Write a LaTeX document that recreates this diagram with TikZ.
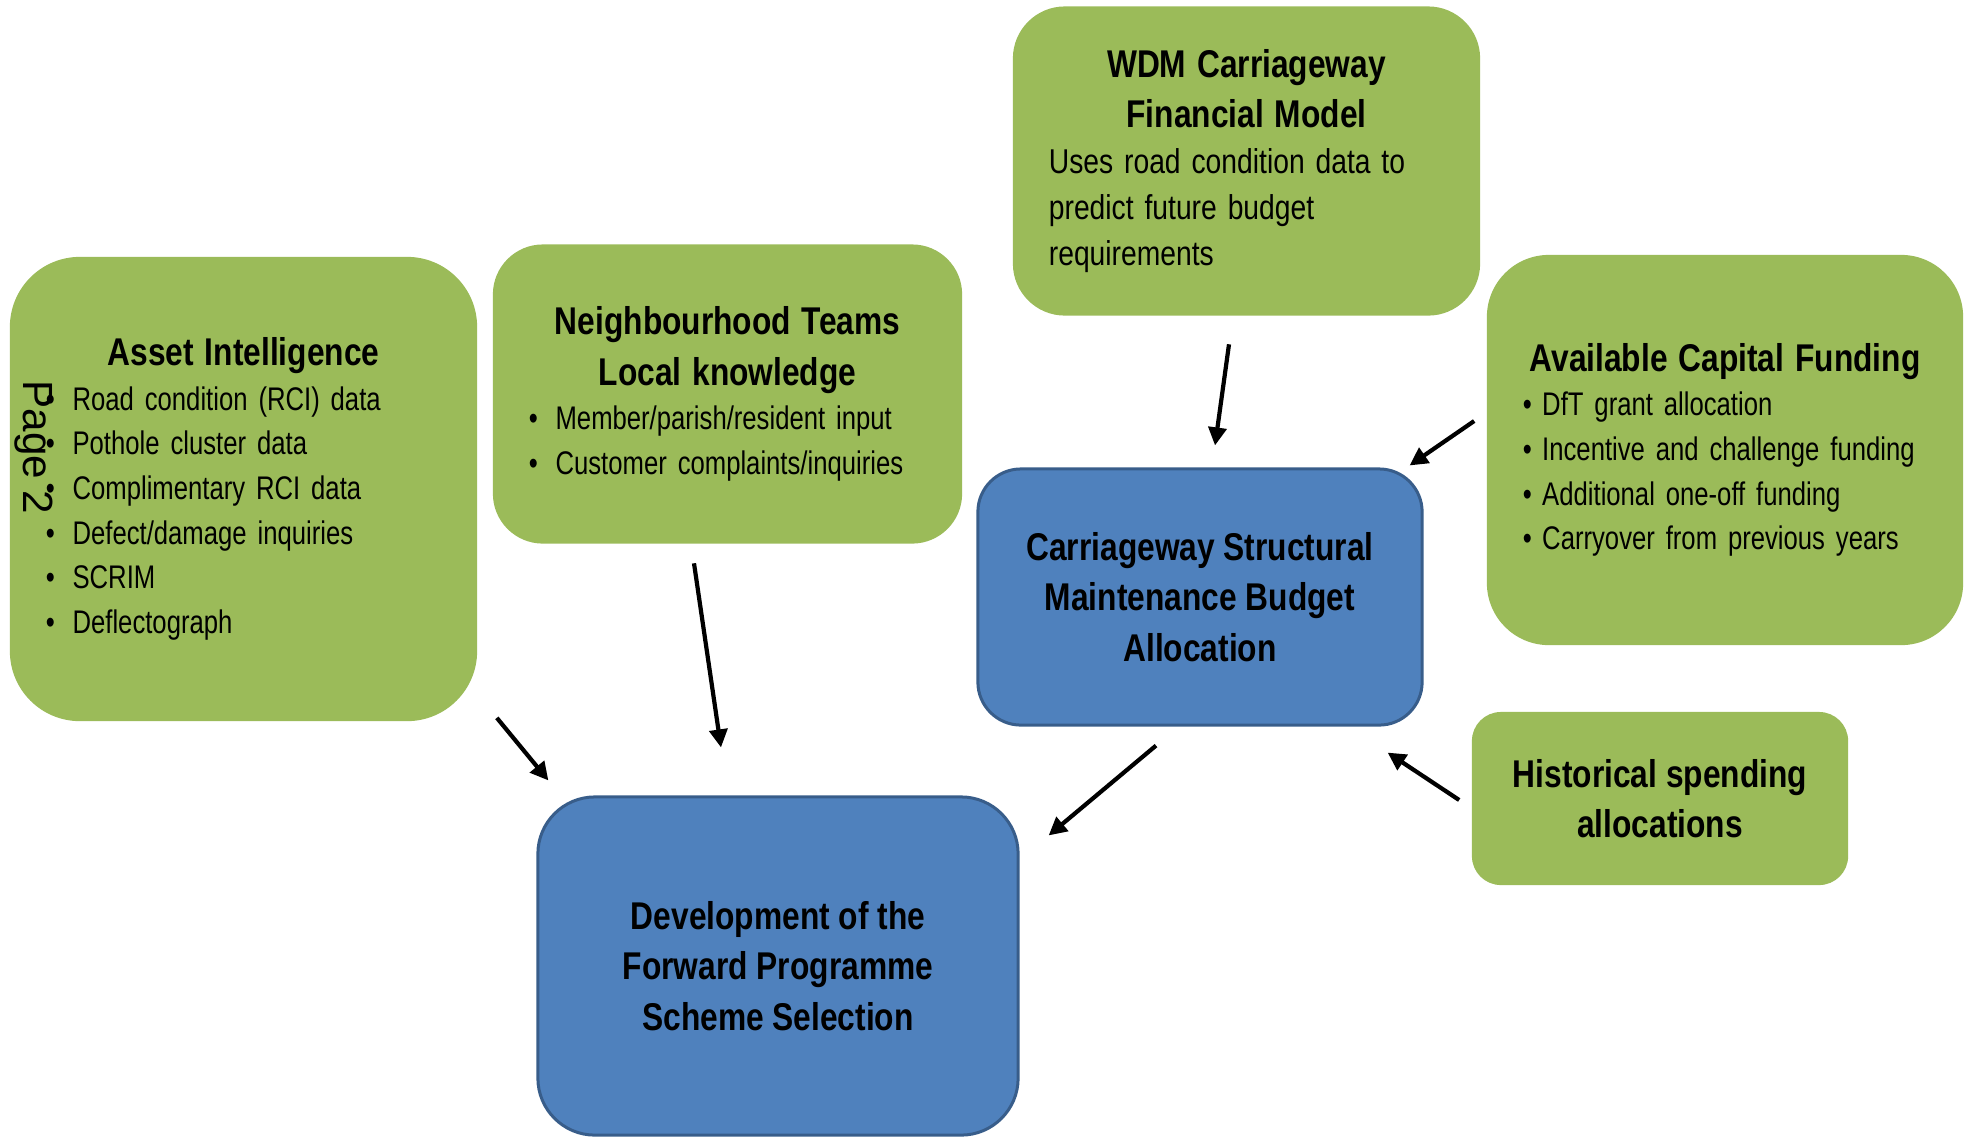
\documentclass[tikz,border=0pt]{standalone}
\usepackage{fontspec}
\setmainfont{Liberation Sans}[FakeStretch=0.82]
\newfontfamily\narrowfont{Liberation Sans}[FakeStretch=0.785]
\newfontfamily\pagefont{Liberation Sans}
\usetikzlibrary{positioning,arrows.meta}

\definecolor{boxgreen}{HTML}{9BBB59}
\definecolor{boxblue}{HTML}{4F81BD}
\definecolor{edgeblue}{HTML}{385D8A}

\newcommand{\headfont}{\rmfamily\fontsize{11}{14.3}\selectfont\bfseries}
\newcommand{\bodyfont}{\narrowfont\fontsize{9.3}{12.7}\selectfont}
\newcommand{\itembul}[1][7.6pt]{\makebox[#1][l]{\textbullet}}

\begin{document}
\begin{tikzpicture}[x=0.01cm,y=-0.01cm,
    greenbox/.style={fill=boxgreen,inner xsep=0.36cm,align=left,font=\bodyfont},
    bluebox/.style={fill=boxblue,draw=edgeblue,line width=0.03cm,align=center,font=\headfont},
    arr/.style={line width=0.042cm,-{Triangle[length=0.18cm,width=0.18cm]}}]
                \useasboundingbox (0,0) rectangle (1964,1138);
                \node[greenbox,minimum width=4.67cm,minimum height=4.64cm,text width=3.95cm,rounded corners=0.7cm] (asset) at (243.5,489)
                    {{\centering\headfont Asset Intelligence\par}
                     \itembul Road condition (RCI) data\\
                     \itembul Pothole cluster data\\
                     \itembul Complimentary RCI data\\
                     \itembul Defect/damage inquiries\\
                     \itembul SCRIM\\
                     \itembul Deflectograph};
                \node[greenbox,minimum width=4.69cm,minimum height=2.99cm,text width=3.97cm,rounded corners=0.5cm] (nbhd) at (727.5,394)
                    {{\centering\headfont Neighbourhood Teams\\Local knowledge\par}
                     \itembul Member/parish/resident input\\
                     \itembul Customer complaints/inquiries};
                \node[greenbox,minimum width=4.67cm,minimum height=3.09cm,text width=3.95cm,rounded corners=0.52cm] (wdm) at (1246.5,161)
                    {{\centering\headfont WDM Carriageway\\Financial Model\par}
                     {\rmfamily\fontsize{9.8}{13.1}\selectfont Uses road condition data to\\predict future budget\\requirements\par}};
                \node[greenbox,minimum width=4.76cm,minimum height=3.9cm,text width=4.04cm,rounded corners=0.62cm] (funds) at (1725,450)
                    {{\centering\headfont Available Capital Funding\par}
                     \itembul[5.5pt]DfT grant allocation\\
                     \itembul[5.5pt]Incentive and challenge funding\\
                     \itembul[5.5pt]Additional one-off funding\\
                     \itembul[5.5pt]Carryover from previous years};
                \node[bluebox,minimum width=4.44cm,minimum height=2.56cm,rounded corners=0.43cm] (budget) at (1200,597)
                    {Carriageway Structural\\Maintenance Budget\\Allocation};
                \node[greenbox,align=center,font=\headfont,minimum width=3.76cm,minimum height=1.73cm,rounded corners=0.29cm] (hist) at (1660,798.5)
                    {Historical spending\\allocations};
                \node[bluebox,minimum width=4.8cm,minimum height=3.38cm,rounded corners=0.57cm] (fwd) at (778,966)
                    {Development of the\\Forward Programme\\Scheme Selection};
                \node[font=\pagefont\fontsize{12}{14}\selectfont,rotate=-90] (pg) at (34,447.5) {Page 2};
                \draw[arr] ([shift={(19,-4)}]asset.south east) -- ([shift={(12,-15)}]fwd.north west);
                \draw[arr] ([shift={(-33.5,19)}]nbhd.south) -- ([shift={(-57,-48)}]fwd.north);
                \draw[arr] ([shift={(-17.5,28)}]wdm.south) -- ([shift={(15,-22)}]budget.north);
                \draw[arr] ([shift={(-12,-29)}]funds.west) -- ([shift={(-14,-2)}]budget.north east);
                \draw[arr] ([shift={(-12,1.5)}]hist.west) -- ([shift={(-36,26)}]budget.south east);
                \draw[arr] ([shift={(-44,19)}]budget.south) -- ([shift={(29,40)}]fwd.north east);
            \end{tikzpicture}
\end{document}
